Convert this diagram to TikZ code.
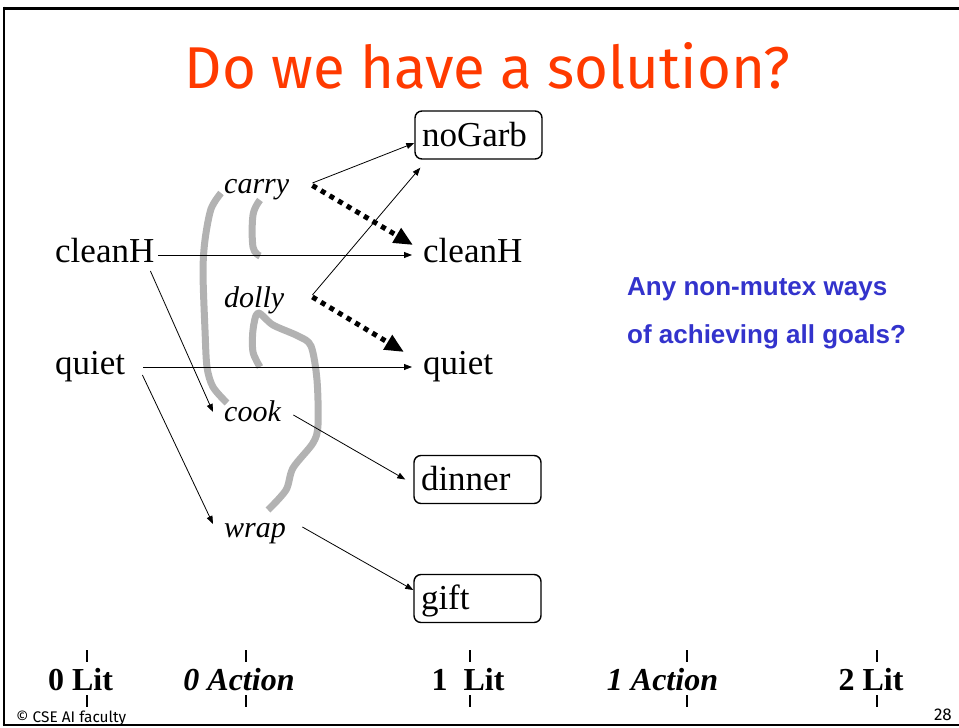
\documentclass[tikz,border=0pt]{standalone}
\usepackage{fontspec}
\usepackage{graphicx}
\usetikzlibrary{arrows.meta,calc}
\newfontfamily\titlefont{Fira Sans}
\newfontfamily\bluefont{Liberation Sans}
\newfontfamily\serifface{Liberation Serif}
\definecolor{titlered}{RGB}{255,58,0}
\definecolor{noteblue}{RGB}{51,51,204}
\definecolor{mutexgray}{RGB}{178,178,178}

\begin{document}
\begin{tikzpicture}[x=1pt,y=-1pt,
  lit/.style={anchor=west,inner sep=0pt,text height=21pt,text depth=6pt,align=left,
              font=\serifface\fontsize{35}{40}\selectfont},
  act/.style={lit,font=\serifface\fontsize{30}{36}\selectfont\itshape},
  goal/.style={draw,line width=1.4pt,rounded corners=7pt,minimum height=48pt,
               text width=113pt,inner xsep=7pt,inner ysep=0pt,text height=22pt,
               text depth=0pt,align=left,font=\serifface\fontsize{35}{40}\selectfont},
  conn/.style={line width=0.8pt,-{Triangle[length=8pt,width=6pt]}},
  strong/.style={line width=5pt,dash pattern=on 5pt off 5pt,
                 -{Triangle[length=19pt,width=16pt]}},
  mutex/.style={draw=mutexgray,line width=7pt,line join=round},
  axislabel/.style={anchor=base,inner sep=0pt,font=\serifface\bfseries\fontsize{32}{36}\selectfont},
  tick/.style={line width=1.6pt},
  note/.style={anchor=base west,inner sep=0pt,text=noteblue,
               font=\bluefont\bfseries\fontsize{26}{30}\selectfont}]

\useasboundingbox (0,0) rectangle (959,728);

% slide frame
\draw[line width=3pt] (959,8) -- (2.5,8);
\draw[line width=2.5pt] (4,6.5) -- (4,726);
\draw[line width=2.5pt] (2.5,725) -- (959,725);

% title
\node[anchor=base,inner sep=0pt,text=titlered] (title) at (487.5,88)
  {\resizebox{605pt}{46pt}{\titlefont Do we have a solution?}};

% level 0 literals
\node[lit,text width=100pt] (cleanH0) at (55,255) {cleanH};
\node[lit,text width=73pt]  (quiet0)  at (55,367) {quiet};

% level 0 actions
\node[act,text width=66pt] (carry) at (224,185.5) {carry};
\node[act,text width=63pt] (dolly) at (224,299.5) {dolly};
\node[act,text width=55pt] (cook)  at (224,414)   {cook};
\node[act,text width=63pt] (wrap)  at (224,529.5) {wrap};

% level 1 literals
\node[goal] (noGarb) at (478.5,135) {noGarb};
\node[lit,text width=100pt] (cleanH1) at (423,255) {cleanH};
\node[lit,text width=73pt]  (quiet1)  at (423,367) {quiet};
\node[goal] (dinner) at (477.5,479.5) {dinner};
\node[goal] (gift)   at (477.5,598.5) {gift};

% mutex marks
\draw[mutex] plot[smooth,tension=0.5] coordinates
  {(221,193) (211,209) (205,240) (203,272) (205,330) (207,367) (213,387) (227,403)};
\draw[mutex] plot[smooth,tension=0.6] coordinates
  {(260,200) (253,215) (253,247) (260,256)};
\draw[mutex] plot[smooth,tension=0.5] coordinates
  {(260,367) (253,352) (253,330) (258,313) (273,325) (298,336) (311,346)
   (317,380) (318,425) (313,443) (293,468) (286,490) (268,510)};

% persistence and effect links
\draw[conn] ($(cleanH0.east)+(3,0)$) -- ($(cleanH1.west)+(-11,0)$);
\draw[conn] ($(quiet0.east)+(15,0)$) -- ($(quiet1.west)+(-11,0)$);
\draw[conn] ($(cleanH0.east)+(-5,16)$) -- ($(cook.west)+(-11,-2)$);
\draw[conn] ($(quiet0.east)+(14,8)$) -- ($(wrap.west)+(-11,-5.5)$);
\draw[conn] ($(carry.east)+(22,-2.5)$) -- ($(noGarb.west)+(0,8)$);
\draw[conn] ($(dolly.east)+(25,-4.5)$) -- ($(noGarb.south west)+(6,8)$);
\draw[conn] ($(cook.east)+(14,1)$) -- ($(dinner.west)+(-8,0)$);
\draw[conn] ($(wrap.east)+(15,-2.5)$) -- ($(gift.west)+(0,-8.5)$);
\draw[strong] ($(carry.east)+(22,0)$) -- ($(cleanH1.west)+(-10,-10)$);
\draw[strong] ($(dolly.east)+(25,-2.5)$) -- ($(quiet1.west)+(-19,-15)$);

% question
\node[note] (q1) at (627,295) {Any non-mutex ways};
\node[note] (q2) at (627,343) {of achieving all goals?};

% level axis
\node[axislabel] (ax0) at (80.5,690) {0 Lit};
\node[axislabel] (ax1) at (239,690) {\itshape 0 Action};
\node[axislabel] (ax2) at (468,690) {1\hspace*{8pt} Lit};
\node[axislabel] (ax3) at (662.5,690) {\itshape 1 Action};
\node[axislabel] (ax4) at (871,690) {2 Lit};
\foreach \tx in {87,246,470,687,877}{
  \draw[tick] (\tx,650) -- (\tx,662);
  \draw[tick] (\tx,695) -- (\tx,707);
}

% footer
\node[anchor=base west,inner sep=0pt] (credit) at (16,722)
  {\resizebox{110pt}{!}{\titlefont © CSE AI faculty}};
\node[anchor=base east,inner sep=0pt,font=\titlefont\fontsize{17}{18}\selectfont] (pageno) at (952,720) {28};
\end{tikzpicture}
\end{document}
